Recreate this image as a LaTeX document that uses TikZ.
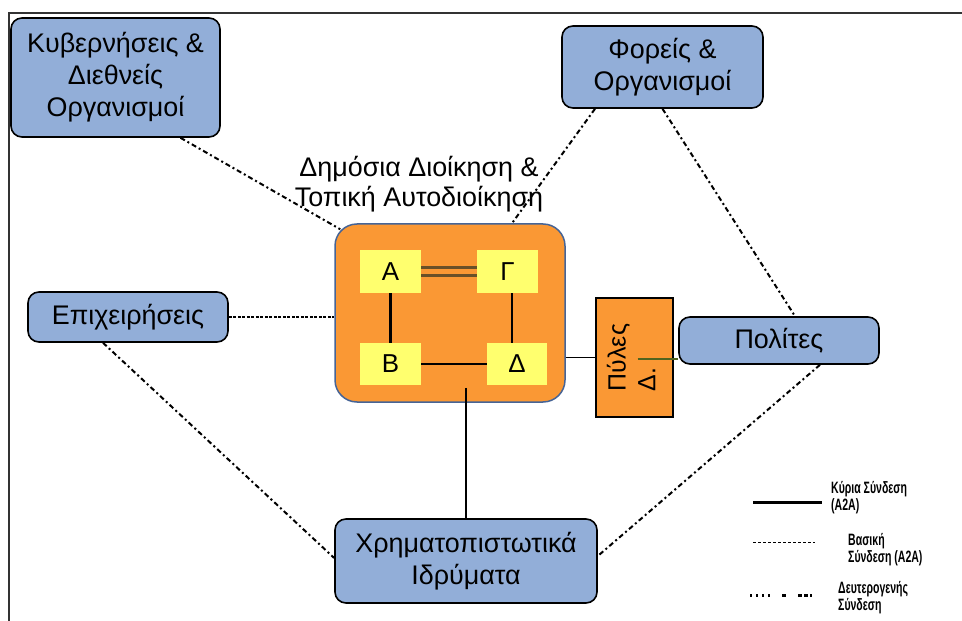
\documentclass[tikz,border=0pt]{standalone}
\usepackage{fontspec}
\setmainfont{Liberation Sans}
\newfontfamily\legfont[FakeStretch=0.64]{Liberation Sans}
\usetikzlibrary{calc}
\definecolor{boxblue}{RGB}{146,174,216}
\definecolor{orfill}{RGB}{250,152,52}
\definecolor{yel}{RGB}{255,255,110}
\definecolor{bigedge}{RGB}{70,100,150}
\definecolor{brownline}{RGB}{105,80,40}
\definecolor{greenline}{RGB}{80,100,30}
\tikzset{
 bluebox/.style={draw=black, line width=1.6bp, fill=boxblue, rounded corners=11bp, align=center, font=\fontsize{27}{32}\selectfont, inner sep=0pt},
 bigbox/.style={draw=bigedge, line width=1.5bp, fill=orfill, rounded corners=22bp, minimum width=230bp, minimum height=178bp, inner sep=0pt},
 letterbox/.style={fill=yel, minimum width=61bp, minimum height=43bp, inner sep=0pt, font=\fontsize{26}{30}\selectfont},
 pylbox/.style={draw=black, line width=1.2bp, fill=orfill, minimum width=77bp, minimum height=119bp, inner sep=0pt, font=\fontsize{25}{30}\selectfont},
 secline/.style={line width=2bp, dash pattern=on 5bp off 3bp on 2bp off 3bp},
 dotline/.style={line width=2.6bp, dash pattern=on 3bp off 1.5bp},
 mainline/.style={line width=2.4bp},
 basicline/.style={line width=1bp, dash pattern=on 3bp off 2bp},
 legsecline/.style={line width=3bp, dash pattern=on 2bp off 4bp on 2bp off 4bp on 2bp off 4bp on 2bp off 12bp on 4bp off 12bp on 4bp},
 legtext/.style={align=left, anchor=north west, inner sep=0pt, font=\legfont\bfseries\fontsize{16.5}{17.5}\selectfont},
 framel/.style={line width=1.5bp, draw=black!80},
 ttl/.style={align=center, font=\fontsize{27}{30}\selectfont, inner sep=0pt},
}
\begin{document}
\begin{tikzpicture}[x=1bp,y=-1bp]
\useasboundingbox (0,0) rectangle (962,621);
\fill[white] (0,0) rectangle (962,621);
\draw[framel] (962,13) -- (9,13) -- (9,621);

% boxes
\node[bluebox, minimum width=209bp, minimum height=119bp] (kyv) at (115.5,77.5) {Κυβερνήσεις \&\\Διεθνείς\\Οργανισμοί};
\node[bluebox, minimum width=201bp, minimum height=82bp] (fore) at (662.5,67) {Φορείς \&\\Οργανισμοί};
\node[bluebox, minimum width=200bp, minimum height=50bp] (epix) at (128,317) {Επιχειρήσεις};
\node[bluebox, minimum width=262bp, minimum height=84bp] (xrim) at (466,561) {Χρηματοπιστωτικά\\Ιδρύματα};
\node[bluebox, minimum width=200bp, minimum height=47bp] (pol) at (779,340.5) {Πολίτες};
\node[bigbox] (big) at (450,313) {};
\node[ttl] (title) at (419,184) {Δημόσια Διοίκηση \&\\Τοπική Αυτοδιοίκηση};
\node[letterbox] (A) at (390.5,271.5) {Α};
\node[letterbox] (G) at (507.5,271.5) {Γ};
\node[letterbox, minimum height=42bp] (B) at (390.5,364) {Β};
\node[letterbox, minimum width=60bp, minimum height=42bp] (D) at (517,364) {Δ};
\node[pylbox] (pyles) at (634.5,357.5) {\rotatebox{90}{\begin{tabular}{@{}l@{}}Πύλες\hspace{16bp}\\Δ.\end{tabular}}};

% inner connections
\draw[draw=brownline, line width=2.4bp, double=orfill, double distance=5.6bp] (A.east) -- (G.west);
\draw[mainline] (A.south) -- (B.north);
\draw[mainline] ([xshift=4.5bp]G.south) coordinate (gs) -- (gs |- D.north);
\draw[mainline] (B.east) -- (D.west);
\draw[line width=1.6bp] (pyles.west -| big.east) -- (pyles.west);
\draw[draw=greenline, line width=1.2bp] ([xshift=3bp,yshift=-1.5bp]pyles.center) coordinate (pc) -- (pc -| pol.west);
\path ([yshift=15bp]big.south) coordinate (bs);
\draw[mainline] (bs -| xrim.north) -- (xrim.north);

% outer connections
\draw[secline] ([xshift=65bp]kyv.south) -- ([shift={(6,6)}]big.north west);
\draw[secline] ([xshift=-67.5bp]fore.south) -- ([xshift=62bp]big.north);
\draw[secline] (fore.south) -- ([xshift=16bp]pol.north);
\draw[secline] ([xshift=-25bp]epix.south) -- ([yshift=3bp]xrim.west);
\draw[secline] ([xshift=41bp]pol.south) -- ([yshift=5bp]xrim.east);
\draw[dotline] (epix.east) -- (epix.east -| big.west);

% legend
\coordinate (m1) at (753,502); \coordinate (m2) at (822,502);
\coordinate (b1) at (753,542); \coordinate (b2) at (815,542);
\coordinate (s1) at (750,595); \coordinate (s2) at (812,595);
\draw[mainline, line width=3bp] (m1) -- (m2);
\draw[basicline] (b1) -- (b2);
\draw[legsecline] (s1) -- (s2);
\node[legtext] (lm) at (831,481) {Κύρια Σύνδεση\\(A2A)};
\node[legtext] (lb) at (848,533) {Βασική\\Σύνδεση (A2A)};
\node[legtext] (ls) at (838,581) {Δευτερογενής\\Σύνδεση};
\end{tikzpicture}
\end{document}
